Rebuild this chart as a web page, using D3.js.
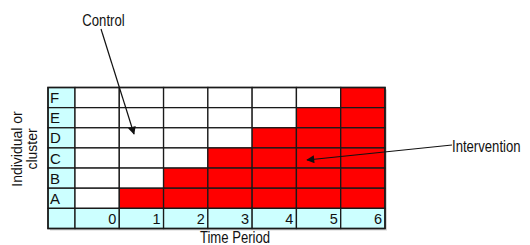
<!DOCTYPE html>
<html>
<head>
<meta charset="utf-8">
<script src="https://cdn.jsdelivr.net/npm/d3@7"></script>
<style>
  html, body { margin: 0; padding: 0; background: #fff; }
  text { font-family: "Liberation Sans", Arial, sans-serif; fill: #111; }
</style>
</head>
<body>
<div id="chart"></div>
<script>
// Stepped-wedge layout: clusters (top to bottom) and time periods
const clusters = ['F', 'E', 'D', 'C', 'B', 'A'];
const periods = [0, 1, 2, 3, 4, 5, 6];
// first period in which each cluster receives the intervention
const startPeriod = [6, 5, 4, 3, 2, 1];

const width = 530, height = 245;
const gridLeft = 48, labelRight = 75, gridRight = 385;
const gridTop = 87.5, gridBottom = 228.5;

const svg = d3.select('#chart')
  .append('svg')
  .attr('width', width)
  .attr('height', height);

const defs = svg.append('defs');
defs.append('marker')
  .attr('id', 'arrow')
  .attr('viewBox', '0 0 10 10')
  .attr('refX', 9)
  .attr('refY', 5)
  .attr('markerWidth', 9)
  .attr('markerHeight', 8)
  .attr('markerUnits', 'userSpaceOnUse')
  .attr('orient', 'auto')
  .append('path')
  .attr('d', 'M0,0 L10,5 L0,10 Z')
  .attr('fill', '#111');

// Scales
const x = d3.scaleLinear()
  .domain([0, periods.length])
  .range([labelRight, gridRight]);

const y = d3.scaleBand()
  .domain([...clusters, 'axis'])
  .range([gridTop, gridBottom]);

const lineColor = '#1a1a1a';
const cyan = '#ccffff';
const red = '#ff0000';

// narrow-looking label (Arial Narrow imitation)
function narrowText(tx, ty, str, anchor) {
  return svg.append('text')
    .attr('transform', `translate(${tx},${ty}) scale(0.82,1)`)
    .attr('text-anchor', anchor || 'start')
    .style('font-size', '16px')
    .text(str);
}

// shadow behind the table
svg.append('rect')
  .attr('x', gridLeft + 2)
  .attr('y', gridTop + 2)
  .attr('width', gridRight - gridLeft)
  .attr('height', gridBottom - gridTop)
  .attr('fill', '#d6d6d6');

const grid = svg.append('g');

// Cluster label cells
grid.selectAll('.lab')
  .data([...clusters, ''])
  .join('rect')
  .attr('x', gridLeft)
  .attr('y', (d, i) => y(y.domain()[i]))
  .attr('width', labelRight - gridLeft)
  .attr('height', y.bandwidth())
  .attr('fill', cyan)
  .attr('stroke', lineColor)
  .attr('stroke-width', 1.3);

grid.selectAll('.labtext')
  .data(clusters)
  .join('text')
  .attr('x', gridLeft + 2)
  .attr('y', d => y(d) + y.bandwidth() / 2)
  .attr('dy', '0.37em')
  .style('font-size', '15px')
  .text(d => d);

// Data cells
const cells = [];
clusters.forEach((c, i) => {
  periods.forEach(p => {
    cells.push({ cluster: c, period: p, on: p >= startPeriod[i] });
  });
});

grid.selectAll('.cell')
  .data(cells)
  .join('rect')
  .attr('x', d => x(d.period))
  .attr('y', d => y(d.cluster))
  .attr('width', x(1) - x(0))
  .attr('height', y.bandwidth())
  .attr('fill', d => d.on ? red : '#fff')
  .attr('stroke', lineColor)
  .attr('stroke-width', 1.3);

// Time period row
grid.selectAll('.tcell')
  .data(periods)
  .join('rect')
  .attr('x', d => x(d))
  .attr('y', y('axis'))
  .attr('width', x(1) - x(0))
  .attr('height', y.bandwidth())
  .attr('fill', cyan)
  .attr('stroke', lineColor)
  .attr('stroke-width', 1.3);

grid.selectAll('.ttext')
  .data(periods)
  .join('text')
  .attr('x', d => x(d + 1) - 3)
  .attr('y', y('axis') + y.bandwidth() / 2)
  .attr('dy', '0.38em')
  .attr('text-anchor', 'end')
  .style('font-size', '14.5px')
  .text(d => d);

// outer frame
grid.append('rect')
  .attr('x', gridLeft)
  .attr('y', gridTop)
  .attr('width', gridRight - gridLeft)
  .attr('height', gridBottom - gridTop)
  .attr('fill', 'none')
  .attr('stroke', lineColor)
  .attr('stroke-width', 1.5);

// Axis titles
narrowText(235, 243, 'Time Period', 'middle');

const yTitle = svg.append('text')
  .attr('transform', 'translate(24,149) rotate(-90)')
  .attr('text-anchor', 'middle')
  .style('font-size', '14px');
yTitle.append('tspan').attr('x', 0).attr('dy', '-0.15em').text('Individual or');
yTitle.append('tspan').attr('x', 0).attr('dy', '1.1em').text('cluster');

// Annotations
narrowText(103.5, 26, 'Control', 'middle');

svg.append('line')
  .attr('x1', 101).attr('y1', 29)
  .attr('x2', 134).attr('y2', 134)
  .attr('stroke', '#111')
  .attr('stroke-width', 1.2)
  .attr('marker-end', 'url(#arrow)');

narrowText(452, 152, 'Intervention', 'start');

svg.append('line')
  .attr('x1', 452).attr('y1', 145)
  .attr('x2', 307).attr('y2', 160)
  .attr('stroke', '#111')
  .attr('stroke-width', 1.2)
  .attr('marker-end', 'url(#arrow)');
</script>
</body>
</html>
